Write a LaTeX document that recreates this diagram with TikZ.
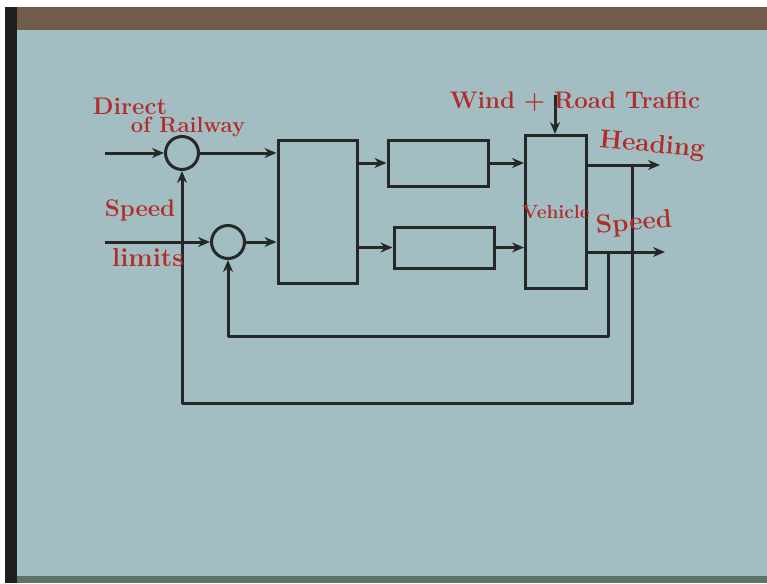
\documentclass[tikz,border=0pt]{standalone}
\usetikzlibrary{arrows.meta}
\definecolor{board}{RGB}{163,190,195}
\definecolor{frametop}{RGB}{112,92,72}
\definecolor{frameleft}{RGB}{30,32,30}
\definecolor{framebot}{RGB}{95,115,100}
\definecolor{ink}{RGB}{38,40,40}
\definecolor{redink}{RGB}{178,45,40}
\tikzset{
  blk/.style={draw=ink, line width=3pt, rectangle, inner sep=0pt},
  sumj/.style={draw=ink, line width=3pt, circle, minimum size=33pt, inner sep=0pt},
  wire/.style={draw=ink, line width=3pt, line join=round},
  arr/.style={wire, -{Stealth[length=12pt,width=10pt]}},
  lbl/.style={text=redink, font=\fontsize{24}{26}\selectfont\bfseries, inner sep=0pt}
}
\begin{document}
\begin{tikzpicture}[x=1pt,y=-1pt]
\useasboundingbox (0,0) rectangle (767,583);
% background: photo of board
\fill[white] (0,0) rectangle (767,583);
\fill[frameleft] (5,7) rectangle (17,583);
\fill[frametop] (17,7) rectangle (767,30);
\fill[board] (17,30) rectangle (767,576);
\fill[framebot] (17,576) rectangle (767,583);

% blocks
\node[sumj] (sum1) at (182,153) {};
\node[sumj] (sum2) at (228,242) {};
\node[blk, minimum width=79pt, minimum height=143pt] (ctrl) at (317.5,211.5) {};
\node[blk, minimum width=100pt, minimum height=46pt] (act1) at (438,163) {};
\node[blk, minimum width=100pt, minimum height=41pt] (act2) at (444,247.5) {};
\node[blk, minimum width=61pt, minimum height=153pt] (veh) at (556,212) {};

% free ends
\coordinate (in1) at (105,153);
\coordinate (in2) at (105,242);
\coordinate (wind) at (555,95);
\coordinate (headout) at (660,165);
\coordinate (speedout) at (665,252);
\coordinate (fbH) at (632,165);
\coordinate (fbS) at (608,252);
\coordinate (fbHlow) at (632,403);
\coordinate (fbSlow) at (608,336);

% forward path
\draw[arr] (in1) -- (sum1.west);
\draw[arr] (in2) -- (sum2.west);
\draw[arr] (sum1.east) -- (ctrl.west |- sum1.east);
\draw[arr] (sum2.east) -- (ctrl.west |- sum2.east);
\draw[arr] (ctrl.east |- act1.west) -- (act1.west);
\draw[arr] (ctrl.east |- act2.west) -- (act2.west);
\draw[arr] (act1.east) -- (act1.east -| veh.west);
\draw[arr] (act2.east) -- (act2.east -| veh.west);
\draw[arr] (wind) -- (wind |- veh.north);
\draw[arr] (veh.east |- headout) -- (headout);
\draw[arr] (veh.east |- speedout) -- (speedout);

% feedback loops
\draw[arr] (fbH) -- (fbHlow) -| (sum1.south);
\draw[arr] (fbS) -- (fbSlow) -| (sum2.south);

% labels
\node[lbl] (l1) at (130,106) {Direct};
\node[lbl, font=\fontsize{22}{24}\selectfont\bfseries] (l2) at (188,127) {of Railway};
\node[lbl] (l3) at (140,210) {Speed};
\node[lbl, font=\fontsize{26}{28}\selectfont\bfseries] (l4) at (148,258) {limits};
\node[lbl] (l5) at (575,102) {Wind + Road Traffic};
\node[lbl, rotate=-5, font=\fontsize{26}{28}\selectfont\bfseries] (l6) at (652,146) {Heading};
\node[lbl, font=\fontsize{19}{21}\selectfont\bfseries] (l7) at (556,212) {Vehicle};
\node[lbl, rotate=5, font=\fontsize{26}{28}\selectfont\bfseries] (l8) at (634,224) {Speed};
\end{tikzpicture}
\end{document}
